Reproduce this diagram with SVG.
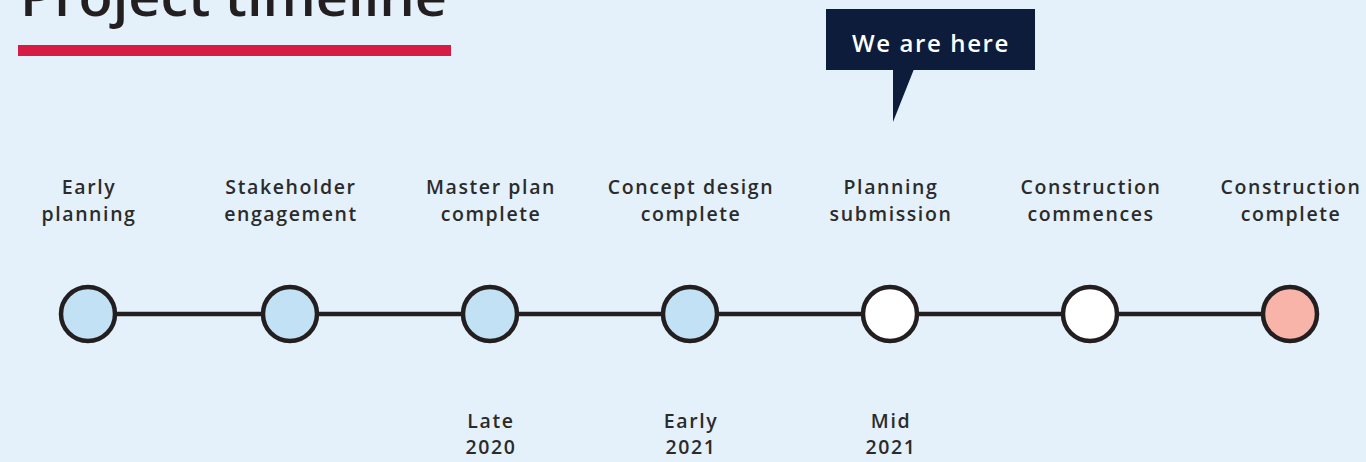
<svg xmlns="http://www.w3.org/2000/svg" width="1366" height="462" viewBox="0 0 1366 462">
<style>
.lbl{font-family:"Open Sans","Liberation Sans",sans-serif;font-weight:600;font-size:19.5px;letter-spacing:1.6px;fill:#2b2b2b;text-anchor:middle}
.dot{stroke:#231f20;stroke-width:4.5}
.past{fill:#c2e1f4}
.future{fill:#ffffff}
.end{fill:#f8b4a8}
</style>
<rect width="1366" height="462" fill="#e4f1fa"/>
<g id="title">
<text x="20" y="16" font-family="Open Sans, Liberation Sans, sans-serif" font-weight="600" font-size="54" fill="#231f20" textLength="427" lengthAdjust="spacingAndGlyphs">Project timeline</text>
<rect x="18" y="45" width="433" height="11" fill="#d61c45"/>
</g>
<g id="connectors">
<line x1="88" y1="314" x2="1290" y2="314" stroke="#231f20" stroke-width="4.5"/>
</g>
<g id="callout">
<rect x="826" y="9" width="209" height="61" fill="#0c1c3a"/>
<polygon points="893,69 914,69 893,122" fill="#0c1c3a"/>
<text x="931" y="52" font-family="Open Sans, Liberation Sans, sans-serif" font-weight="600" font-size="24" letter-spacing="1.6" fill="#ffffff" text-anchor="middle">We are here</text>
</g>
<g id="n1"><circle class="dot past" cx="88" cy="314" r="27"/><text class="lbl" x="89" y="194">Early</text><text class="lbl" x="89" y="221">planning</text></g>
<g id="n2"><circle class="dot past" cx="290" cy="314" r="27"/><text class="lbl" x="291" y="194">Stakeholder</text><text class="lbl" x="291" y="221">engagement</text></g>
<g id="n3"><circle class="dot past" cx="490" cy="314" r="27"/><text class="lbl" x="491" y="194">Master plan</text><text class="lbl" x="491" y="221">complete</text><text class="lbl" x="491" y="428">Late</text><text class="lbl" x="491" y="454">2020</text></g>
<g id="n4"><circle class="dot past" cx="690" cy="314" r="27"/><text class="lbl" x="691" y="194">Concept design</text><text class="lbl" x="691" y="221">complete</text><text class="lbl" x="691" y="428">Early</text><text class="lbl" x="691" y="454">2021</text></g>
<g id="n5"><circle class="dot future" cx="890" cy="314" r="27"/><text class="lbl" x="891" y="194">Planning</text><text class="lbl" x="891" y="221">submission</text><text class="lbl" x="891" y="428">Mid</text><text class="lbl" x="891" y="454">2021</text></g>
<g id="n6"><circle class="dot future" cx="1090" cy="314" r="27"/><text class="lbl" x="1091" y="194">Construction</text><text class="lbl" x="1091" y="221">commences</text></g>
<g id="n7"><circle class="dot end" cx="1290" cy="314" r="27"/><text class="lbl" x="1291" y="194">Construction</text><text class="lbl" x="1291" y="221">complete</text></g>
</svg>
